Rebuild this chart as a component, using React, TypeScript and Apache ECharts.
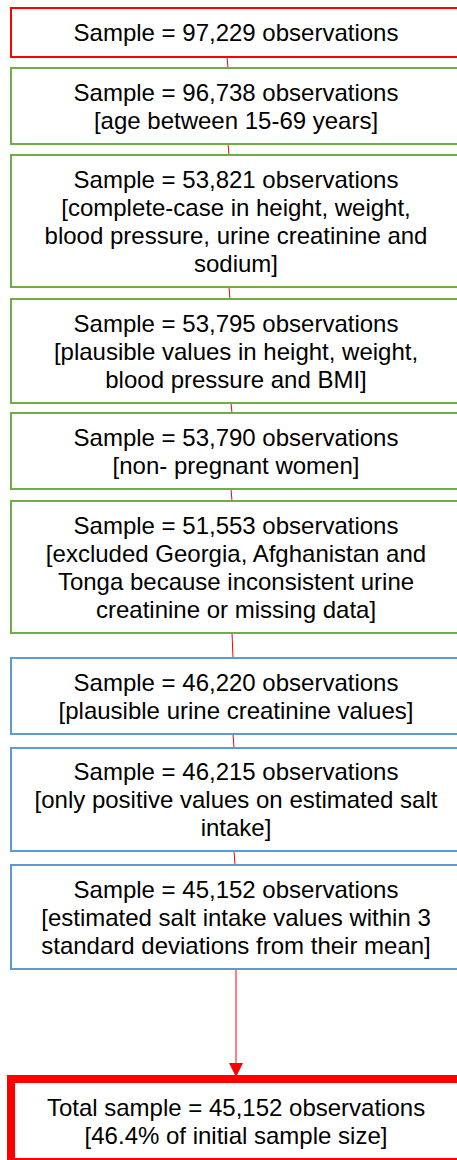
import React, { useEffect, useRef } from "react";
import * as echarts from "echarts";

// ---- data ----
const sampleSizes = [97229, 96738, 53821, 53795, 53790, 51553, 46220, 46215, 45152];
const criteria = [
  "",
  "[age between 15-69 years]",
  "[complete-case in height, weight,\nblood pressure, urine creatinine and\nsodium]",
  "[plausible values in height, weight,\nblood pressure and BMI]",
  "[non- pregnant women]",
  "[excluded Georgia, Afghanistan and\nTonga because inconsistent urine\ncreatinine or missing data]",
  "[plausible urine creatinine values]",
  "[only positive values on estimated salt\nintake]",
  "[estimated salt intake values within 3\nstandard deviations from their mean]",
];
const stageGroups = ["initial", "eligibility", "eligibility", "eligibility", "eligibility", "eligibility", "salt", "salt", "salt"];
const totalSample = 45152;
const initialSample = 97229;

// ---- layout & style ----
const boxLeft = 11;
const boxWidth = 450;
const boxTops = [8, 68, 155, 299, 413, 501, 658, 748, 865];
const boxBottoms = [57, 144, 287, 403, 489, 633, 734, 851, 969];
const connectorX = [227, 228, 229, 231, 231, 232, 233, 234, 236];
const finalBox = { x: 11, y: 1079, w: 460, h: 83 };
const textCenterX = 236;
const groupColors: Record<string, string> = {
  initial: "#FF0000",
  eligibility: "#70AD47",
  salt: "#5B9BD5",
};
const FONT = '24px "Liberation Sans", Arial, sans-serif';

const fmt = (n: number) => n.toLocaleString("en-US");

export default function App() {
  const ref = useRef<HTMLDivElement>(null);
  useEffect(() => {
    if (!ref.current) return;
    const chart = echarts.init(ref.current, null, { renderer: "svg" });
    const elements: any[] = [];

    // connectors
    for (let i = 0; i < sampleSizes.length - 1; i++) {
      elements.push({
        type: "line",
        shape: { x1: connectorX[i], y1: boxBottoms[i], x2: connectorX[i] + 1, y2: boxTops[i + 1] },
        style: { stroke: "#FF0000", lineWidth: 1 },
        z: 1,
      });
    }
    // arrow to final box
    const ax = connectorX[connectorX.length - 1];
    const lastBottom = boxBottoms[boxBottoms.length - 1];
    elements.push({
      type: "line",
      shape: { x1: ax, y1: lastBottom, x2: ax, y2: 1066 },
      style: { stroke: "#FF0000", lineWidth: 1 },
      z: 1,
    });
    elements.push({
      type: "polygon",
      shape: { points: [[ax - 7, 1063], [ax + 7, 1063], [ax, 1077]] },
      style: { fill: "#FF0000" },
      z: 2,
    });

    // boxes
    sampleSizes.forEach((n, i) => {
      const top = boxTops[i];
      const h = boxBottoms[i] - top;
      elements.push({
        type: "rect",
        shape: { x: boxLeft, y: top, width: boxWidth, height: h },
        style: { fill: "#FFFFFF", stroke: groupColors[stageGroups[i]], lineWidth: 2 },
        z: 3,
      });
      const label = `Sample = ${fmt(n)} observations` + (criteria[i] ? "\n" + criteria[i] : "");
      elements.push({
        type: "text",
        x: textCenterX,
        y: top + h / 2,
        style: {
          text: label,
          font: FONT,
          fill: "#000000",
          align: "center",
          verticalAlign: "middle",
          lineHeight: 28,
        },
        z: 4,
      });
    });

    // final box
    elements.push({
      type: "rect",
      shape: { x: finalBox.x, y: finalBox.y, width: finalBox.w, height: finalBox.h },
      style: { fill: "#FFFFFF", stroke: "#FF0000", lineWidth: 8 },
      z: 3,
    });
    const pct = ((totalSample / initialSample) * 100).toFixed(1);
    elements.push({
      type: "text",
      x: textCenterX,
      y: 1121,
      style: {
        text: `Total sample = ${fmt(totalSample)} observations\n[${pct}% of initial sample size]`,
        font: FONT,
        fill: "#000000",
        align: "center",
        verticalAlign: "middle",
        lineHeight: 28,
      },
      z: 4,
    });

    chart.setOption({
      animation: false,
      backgroundColor: "#FFFFFF",
      graphic: { elements },
    });
    return () => chart.dispose();
  }, []);

  return (
    <div
      ref={ref}
      style={{ position: "absolute", left: 0, top: 0, width: 457, height: 1160, overflow: "hidden" }}
    />
  );
}
